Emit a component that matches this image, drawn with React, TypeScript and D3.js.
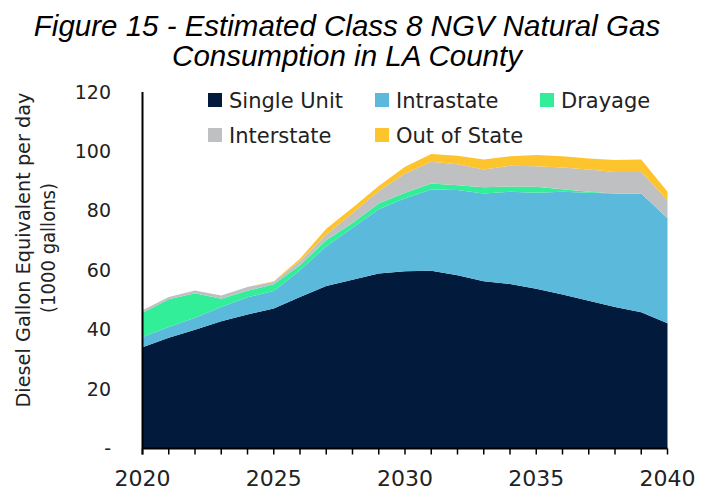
import React from "react";
import * as d3 from "d3";

const years = d3.range(2020, 2041);
const seriesNames = ["Single Unit", "Intrastate", "Drayage", "Interstate", "Out of State"];
const colors = ["#021b3d", "#5bbadb", "#33ee98", "#bfc0c2", "#fec42e"];

const singleUnit = [34.1, 37.3, 40.0, 42.8, 45.1, 47.1, 51.0, 54.7, 56.8, 58.9, 59.7, 59.8, 58.3, 56.3, 55.4, 53.8, 51.8, 49.7, 47.6, 45.9, 42.2];
const intrastate = [3.4, 3.6, 4.0, 4.8, 5.8, 5.9, 9.0, 13.4, 17.5, 21.6, 24.5, 27.4, 28.7, 29.5, 31.0, 32.3, 34.6, 36.4, 38.2, 39.9, 35.3];
const drayage = [8.2, 9.3, 8.3, 2.8, 2.2, 2.3, 1.7, 2.0, 1.6, 2.0, 1.9, 2.0, 1.6, 2.1, 1.8, 2.0, 0.9, 0.3, 0, 0, 0];
const interstate = [0.8, 0.8, 0.9, 1.1, 1.3, 0.8, 1.4, 1.9, 3.3, 4.2, 6.5, 7.3, 7.1, 6.0, 7.0, 6.9, 7.3, 7.5, 7.3, 7.3, 6.1];
const outOfState = [0, 0, 0, 0, 0, 0.2, 0.8, 2.0, 1.8, 1.7, 2.2, 2.6, 2.8, 3.4, 3.2, 3.8, 3.8, 3.7, 4.0, 4.2, 2.8];

const yTicks = [0, 20, 40, 60, 80, 100, 120];
const xLabelYears = [2020, 2025, 2030, 2035, 2040];

const W = 710, H = 493;
const left = 142.5, right = 667.5, top = 92, bottom = 448.5;

export default function App() {
  const x = d3.scaleLinear().domain([2020, 2040]).range([left, right]);
  const y = d3.scaleLinear().domain([0, 120]).range([bottom, top]);
  const rows = years.map((yr, i) => ({
    year: yr,
    "Single Unit": singleUnit[i],
    Intrastate: intrastate[i],
    Drayage: drayage[i],
    Interstate: interstate[i],
    "Out of State": outOfState[i],
  }));
  const stack = d3.stack<any>().keys(seriesNames)(rows);
  const area = d3
    .area<any>()
    .x((d) => x(d.data.year))
    .y0((d) => y(d[0]))
    .y1((d) => y(d[1]));

  const font = "DejaVu Sans";
  const legendItems = [
    { name: "Single Unit", c: 0, lx: 208, ly: 100 },
    { name: "Intrastate", c: 1, lx: 375, ly: 100 },
    { name: "Drayage", c: 2, lx: 540, ly: 100 },
    { name: "Interstate", c: 3, lx: 208, ly: 135 },
    { name: "Out of State", c: 4, lx: 375, ly: 135 },
  ];

  return (
    <svg width={W} height={H} style={{ position: "absolute", left: 0, top: 0, background: "#fff" }}>
      <rect width={W} height={H} fill="#fff" />
      <g fontFamily="Liberation Sans, Arial, sans-serif" fontStyle="italic" fontSize={29.5} fill="#000" textAnchor="middle">
        <text x={347} y={36}>Figure 15 - Estimated Class 8 NGV Natural Gas</text>
        <text x={347} y={66}>Consumption in LA County</text>
      </g>
      {stack.map((s, i) => (
        <path key={s.key} d={area(s) || ""} fill={colors[i]} />
      ))}
      {/* axes */}
      <line x1={left} x2={left} y1={top} y2={bottom + 6} stroke="#000" strokeWidth={2} />
      <line x1={left} x2={right} y1={bottom} y2={bottom} stroke="#000" strokeWidth={2} />
      {years.map((yr) => (
        <line key={yr} x1={x(yr)} x2={x(yr)} y1={bottom} y2={bottom + 6} stroke="#000" strokeWidth={1.5} />
      ))}
      <g fontFamily={font} fontSize={19} fill="#222">
        {yTicks.map((t) => (
          <text key={t} x={111} y={y(t)} dy="0.35em" textAnchor="end">
            {t === 0 ? "-" : t}
          </text>
        ))}
        {xLabelYears.map((yr) => (
          <text key={yr} x={x(yr)} y={486} textAnchor="middle" fontSize={22}>
            {yr}
          </text>
        ))}
      </g>
      <g fontFamily={font} fontSize={19} fill="#222" textAnchor="middle">
        <text transform="translate(30,250) rotate(-90)" textLength={315} lengthAdjust="spacingAndGlyphs">
          Diesel Gallon Equivalent per day
        </text>
        <text transform="translate(55,248) rotate(-90)" textLength={130} lengthAdjust="spacingAndGlyphs">
          (1000 gallons)
        </text>
      </g>
      <g fontFamily={font} fontSize={21} fill="#222">
        {legendItems.map((it) => (
          <g key={it.name}>
            <rect x={it.lx} y={it.ly - 7} width={14} height={14} fill={colors[it.c]} />
            <text x={it.lx + 21} y={it.ly} dy="0.36em">
              {it.name}
            </text>
          </g>
        ))}
      </g>
    </svg>
  );
}
